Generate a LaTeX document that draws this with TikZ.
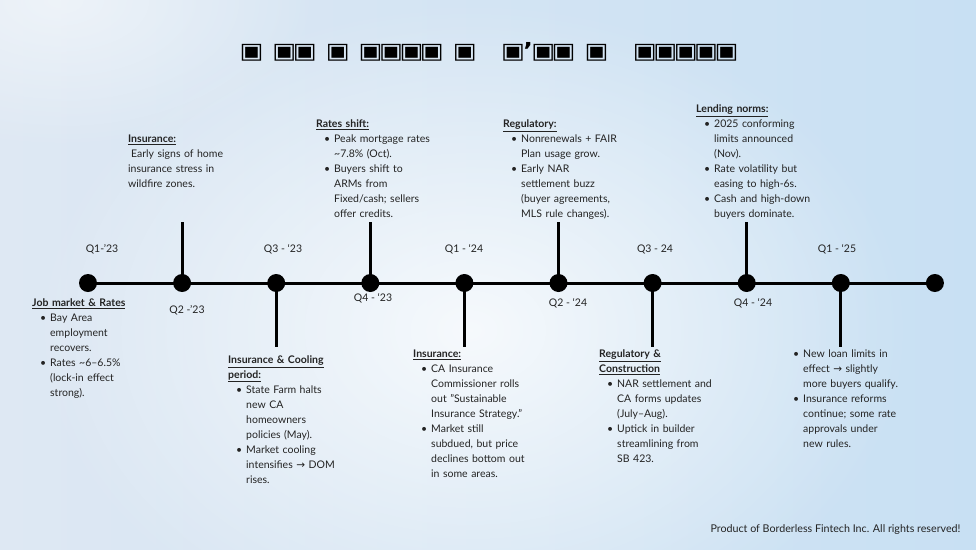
\documentclass[tikz,border=0pt]{standalone}
\usepackage{fontspec}
\setmainfont{Lato}
\newfontfamily\symfont{DejaVu Sans}
\newfontfamily\tofufont{DejaVu Sans}[FakeStretch=1.15]
\usetikzlibrary{fadings}

\definecolor{ink}{RGB}{35,35,35}
\definecolor{bgleft}{RGB}{222,232,243}
\definecolor{bgright}{RGB}{200,224,243}

\newcommand{\hd}[1]{\underline{\textbf{#1}}}
\newcommand{\bl}[1]{\hspace*{8pt}\makebox[10pt][l]{•}#1}
\newcommand{\cl}[1]{\hspace*{18pt}#1}
\newcommand{\ra}{{\symfont\fontsize{10.5}{10}\selectfont →}}
\newcommand{\tofu}{\kern-1.75pt▣\kern-1.75pt}

\tikzfading[name=glow, inner color=transparent!0, outer color=transparent!100]

\begin{document}
\begin{tikzpicture}[x=1pt, y=-1pt,
    dot/.style={circle, fill=black, minimum size=18pt, inner sep=0pt},
    stem/.style={line width=3pt},
    qlabel/.style={font=\fontsize{10.5}{12}\selectfont, text=ink},
    note/.style={anchor=base west, text width=170pt, align=left, inner sep=0pt, text=ink, font=\fontsize{10.5}{15}\selectfont}]
    \useasboundingbox (0,0) rectangle (976,549);
    % background
    \shade[left color=bgleft, right color=bgright] (0,0) rectangle (976,549);
    \begin{scope}
        \clip (0,0) rectangle (976,549);
        \fill[white, path fading=glow, fill opacity=.8] (470,330) ellipse (440 and 330);
        \fill[white, path fading=glow, fill opacity=.5] (60,0) ellipse (260 and 150);
    \end{scope}
    % title
    \node[font=\tofufont\bfseries\fontsize{22}{22}\selectfont] (title) at (489,52)
        {\tofu\hspace{12.5pt}\tofu\tofu\hspace{12.5pt}\tofu\hspace{12.5pt}\tofu\tofu\tofu\tofu\hspace{12.5pt}\tofu\hspace{28pt}\tofu’\tofu\tofu\hspace{12.5pt}\tofu\hspace{28pt}\tofu\tofu\tofu\tofu\tofu};
    % timeline
    \foreach \i in {0,...,9} \node[dot] (d\i) at ({88+94.1*\i},283) {};
    \draw[stem] (d0.center) -- (d9.center);
    \foreach \i in {1,3,5,7} {
        \path (d\i) ++(0,-61) coordinate (t\i);
        \draw[stem] (d\i.center) -- (t\i);
    }
    \foreach \i in {2,4,6,8} {
        \path (d\i) ++(0,64) coordinate (b\i);
        \draw[stem] (d\i.center) -- (b\i);
    }
    % quarters
    \node[qlabel] (q1a) at (102,249) {Q1-’23};
    \node[qlabel] (q2a) at (187,310) {Q2 -’23};
    \node[qlabel] (q3a) at (283,249) {Q3 - ‘23};
    \node[qlabel] (q4a) at (373,298) {Q4 - ‘23};
    \node[qlabel] (q1b) at (464,249) {Q1 - ‘24};
    \node[qlabel] (q2b) at (568,303) {Q2 - ‘24};
    \node[qlabel] (q3b) at (655,249) {Q3 - 24};
    \node[qlabel] (q4b) at (753,303) {Q4 - ‘24};
    \node[qlabel] (q1c) at (837,249) {Q1 - ‘25};
    % notes above
    \node[note] (ins23) at (128,142.5) {\hd{Insurance:}\\ \hspace*{3pt}Early signs of home\\ insurance stress in\\ wildfire zones.};
    \node[note] (rates) at (316,127.5) {\hd{Rates shift:}\\ \bl{Peak mortgage rates}\\ \cl{\textasciitilde 7.8\% (Oct).}\\ \bl{Buyers shift to}\\ \cl{ARMs from}\\ \cl{Fixed/cash; sellers}\\ \cl{offer credits.}};
    \node[note] (reg) at (503,127.5) {\hd{Regulatory:}\\ \bl{Nonrenewals + FAIR}\\ \cl{Plan usage grow.}\\ \bl{Early NAR}\\ \cl{settlement buzz}\\ \cl{(buyer agreements,}\\ \cl{MLS rule changes).}};
    \node[note] (lend) at (696,112.5) {\hd{Lending norms:}\\ \bl{2025 conforming}\\ \cl{limits announced}\\ \cl{(Nov).}\\ \bl{Rate volatility but}\\ \cl{easing to high-6s.}\\ \bl{Cash and high-down}\\ \cl{buyers dominate.}};
    % notes below
    \node[note] (job) at (32,306.5) {\hd{Job market \& Rates}\\ \bl{Bay Area}\\ \cl{employment}\\ \cl{recovers.}\\ \bl{Rates \textasciitilde 6–6.5\%}\\ \cl{(lock-in effect}\\ \cl{strong).}};
    \node[note] (cool) at (228,363.5) {\hd{Insurance \& Cooling}\\ \hd{period:}\\ \bl{State Farm halts}\\ \cl{new CA}\\ \cl{homeowners}\\ \cl{policies (May).}\\ \bl{Market cooling}\\ \cl{intensifies \ra{} DOM}\\ \cl{rises.}};
    \node[note] (ins24) at (413,357.5) {\hd{Insurance:}\\ \bl{CA Insurance}\\ \cl{Commissioner rolls}\\ \cl{out "Sustainable}\\ \cl{Insurance Strategy."}\\ \bl{Market still}\\ \cl{subdued, but price}\\ \cl{declines bottom out}\\ \cl{in some areas.}};
    \node[note] (regcon) at (599,357.5) {\hd{Regulatory \&}\\ \hd{Construction}\\ \bl{NAR settlement and}\\ \cl{CA forms updates}\\ \cl{(July–Aug).}\\ \bl{Uptick in builder}\\ \cl{streamlining from}\\ \cl{SB 423.}};
    \node[note] (loans) at (785,357.5) {\bl{New loan limits in}\\ \cl{effect \ra{} slightly}\\ \cl{more buyers qualify.}\\ \bl{Insurance reforms}\\ \cl{continue; some rate}\\ \cl{approvals under}\\ \cl{new rules.}};
    % footer
    \node[qlabel, font=\fontsize{10.7}{12}\selectfont, anchor=east] (credit) at (964,530) {Product of Borderless Fintech Inc. All rights reserved!};
\end{tikzpicture}
\end{document}
